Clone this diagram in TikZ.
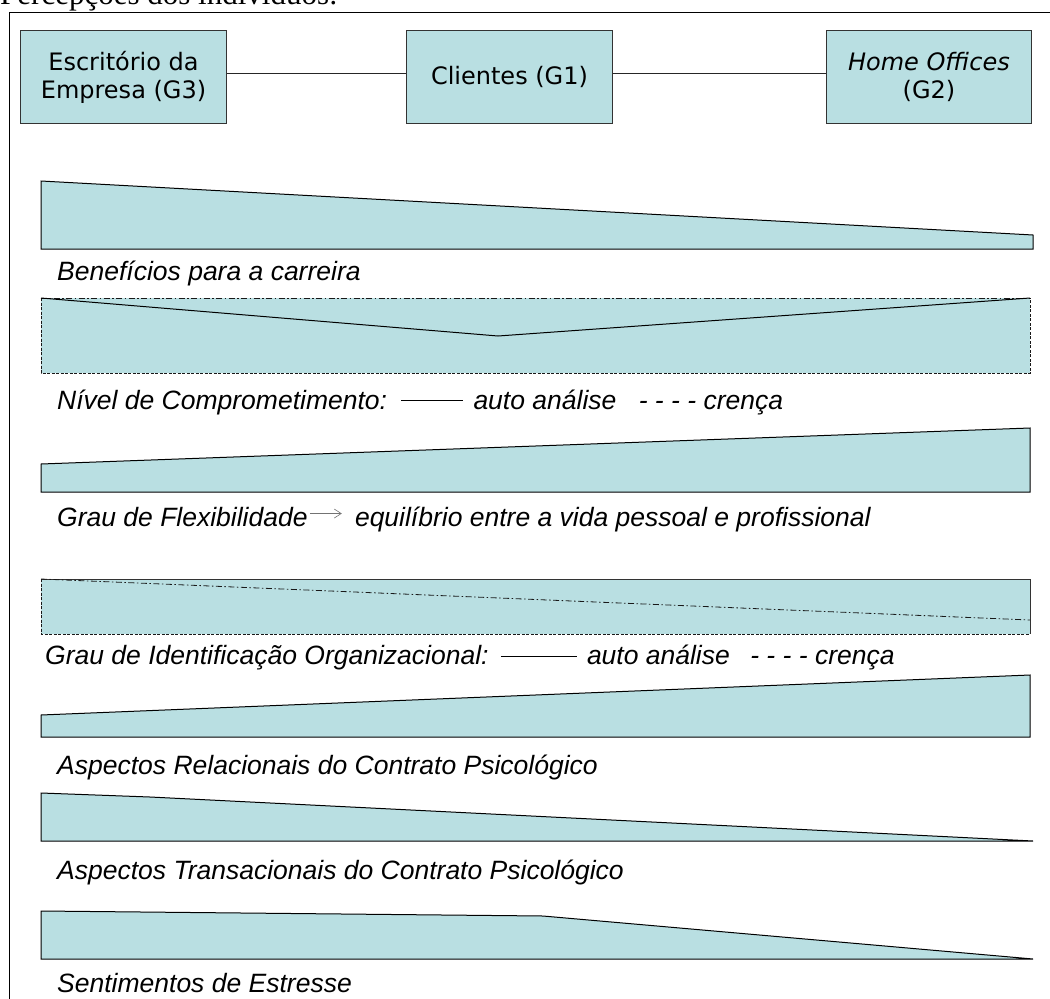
\documentclass[tikz,border=0pt]{standalone}
\usepackage{fontspec}
\setmainfont{Liberation Sans}
\newfontfamily\boxfont{DejaVu Sans}
\newfontfamily\titlefont{Liberation Serif}
\usetikzlibrary{arrows.meta}
\definecolor{fillc}{HTML}{B9DFE2}
\begin{document}
\begin{tikzpicture}[x=1pt,y=-1pt,
  grpbox/.style={draw=black!80, fill=fillc, line width=1pt, minimum width=206pt, minimum height=93pt,
    inner sep=0pt, align=center, anchor=north west, font=\boxfont\fontsize{24}{28}\selectfont},
  link/.style={draw=black!85, line width=1pt},
  band/.style={fill=fillc, draw=black, line width=1pt, line join=miter},
  lbl/.style={anchor=base west, inner sep=0pt, font=\itshape\fontsize{26.5}{30}\selectfont},
  keyline/.style={draw=black, line width=1pt},
  dashdot/.style={draw=black!90, line width=0.8pt, dash pattern=on 6pt off 2.5pt on 1.5pt off 2.5pt},
  fdash/.style={draw=black!90, line width=0.8pt, dash pattern=on 3pt off 1.5pt}
]
\useasboundingbox (0,0) rectangle (1050,999);
\clip (0,0) rectangle (1050,999);

% title (cut by the top edge) and frame
\node[anchor=base west, inner sep=0pt, font=\titlefont\fontsize{31}{31}\selectfont] (title) at (0,4) {Percepções dos indivíduos:};
\draw[line width=1pt] (9,1010) -- (9,12) -- (1060,12);

% group boxes
\node[grpbox] (g3) at (20,30) {Escritório da\\Empresa (G3)};
\node[grpbox] (g1) at (406,30) {Clientes (G1)};
\node[grpbox, minimum width=205pt] (g2) at (826,30) {\itshape Home Offices\\(G2)};
\draw[link] ([yshift=4pt]g3.east) -- ([yshift=4pt]g1.west);
\draw[link] ([yshift=4pt]g1.east) -- ([yshift=4pt]g2.west);

% 1 Beneficios
\draw[band] (41,181) -- (1033,235) -- (1033,249) -- (41,249) -- cycle;
\node[lbl] (l1) at (57,280) {Benefícios para a carreira};

% 2 Comprometimento
\fill[fillc] (41,298) rectangle (1030,373);
\draw[dashdot] (41,298) -- (1030,298);
\draw[fdash] (41,298) -- (41,373) -- (1030,373) -- (1030,298);
\draw[keyline] (41,298) -- (498,336) -- (1030,298);
\node[lbl] (l2) at (57,409) {Nível de Comprometimento:};
\coordinate (l2a) at ([xshift=14pt,yshift=1pt]l2.east);
\coordinate (l2b) at ([xshift=76pt,yshift=1pt]l2.east);
\draw[keyline] (l2a) -- (l2b);
\node[lbl] (l2c) at ([xshift=10pt]l2b |- l2.base) {auto análise};
\node[lbl] (l2d) at ([xshift=22pt]l2c.base east) {- - - - crença};

% 3 Flexibilidade
\draw[band] (41,464) -- (1030,428) -- (1030,492) -- (41,492) -- cycle;
\node[lbl] (l3) at (57,526) {Grau de Flexibilidade};
\coordinate (l3a) at ([xshift=2pt,yshift=3pt]l3.east);
\coordinate (l3b) at ([xshift=34pt,yshift=3pt]l3.east);
\draw[draw=black!55, line width=0.6pt, -{Straight Barb[length=7pt,width=9pt]}] (l3a) -- (l3b);
\node[lbl] (l3c) at ([xshift=13pt]l3b |- l3.base) {equilíbrio entre a vida pessoal e profissional};

% 4 Identificacao
\fill[fillc] (41,579) rectangle (1030,634);
\draw[draw=black!80, line width=0.9pt] (41,579) -- (1030,579) -- (1030,634);
\draw[fdash] (41,579) -- (41,634) -- (1030,634);
\draw[dashdot] (41,579) -- (1030,620);
\node[lbl] (l4) at (45,664) {Grau de Identificação Organizacional:};
\coordinate (l4a) at ([xshift=12pt,yshift=1pt]l4.east);
\coordinate (l4b) at ([xshift=88pt,yshift=1pt]l4.east);
\draw[keyline] (l4a) -- (l4b);
\node[lbl] (l4c) at ([xshift=10pt]l4b |- l4.base) {auto análise};
\node[lbl] (l4d) at ([xshift=20pt]l4c.base east) {- - - - crença};

% 5 Relacionais
\draw[band] (41,715) -- (1030,675) -- (1030,737) -- (41,737) -- cycle;
\node[lbl] (l5) at (57,774) {Aspectos Relacionais do Contrato Psicológico};

% 6 Transacionais
\draw[band] (41,793) -- (150,797) -- (1033,841) -- (41,841) -- cycle;
\node[lbl] (l6) at (57,879) {Aspectos Transacionais do Contrato Psicológico};

% 7 Estresse
\draw[band] (41,911) -- (543,916) -- (1033,959) -- (41,959) -- cycle;
\node[lbl] (l7) at (57,992) {Sentimentos de Estresse};
\end{tikzpicture}
\end{document}
